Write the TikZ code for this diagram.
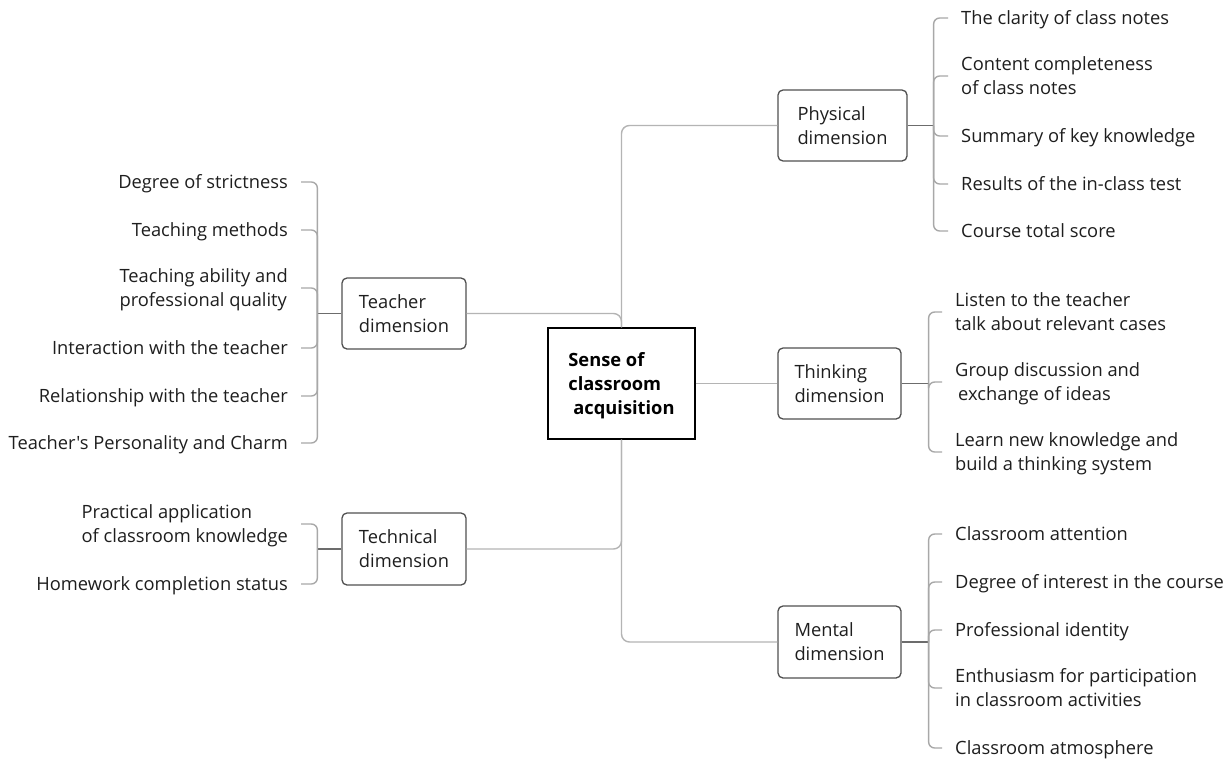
\documentclass[tikz,border=0pt]{standalone}
\usepackage{fontspec}
\setmainfont{Open Sans}[Ligatures=TeXOff]
\usetikzlibrary{calc}
\definecolor{txt}{HTML}{1E1E1E}
\definecolor{trunkc}{HTML}{B4B4B4}
\definecolor{brc}{HTML}{A8A8A8}
\definecolor{boxc}{HTML}{505050}
\newcommand{\itf}{\fontsize{18.3}{24}\selectfont}
\newcommand{\st}{\rule[-5.2pt]{0pt}{24pt}}
\tikzset{
  dimbox/.style={draw=boxc, line width=1.3pt, rounded corners=5pt, fill=white, align=left, text=txt, font=\itf, inner sep=0pt},
  rootbox/.style={draw=black, line width=1.4pt, fill=white, align=left, text=black, font=\itf\bfseries, inner sep=0pt, minimum width=147, minimum height=111},
  itemR/.style={anchor=west, align=left, text=txt, font=\itf, inner xsep=13pt, inner ysep=0pt},
  itemL/.style={anchor=east, align=left, text=txt, font=\itf, inner xsep=13pt, inner ysep=0pt},
  trunk/.style={draw=trunkc, line width=1.4pt, rounded corners=8pt},
  br/.style={draw=brc, line width=1.4pt, rounded corners=6pt},
  stem/.style={draw=gray!85!black, line width=1.4pt},
}
\begin{document}
\begin{tikzpicture}[x=1pt,y=-1pt]
\useasboundingbox[fill=white] (0,0) rectangle (1232,758);

% central and dimension boxes
\node[rootbox] (root) at (621.5,383.5) {\st Sense of\\\st classroom\\\st\hspace{5pt}acquisition};
\node[dimbox, minimum width=129, minimum height=71] (phys) at (842.5,125.5) {\st Physical\\\st dimension};
\node[dimbox, minimum width=123, minimum height=71] (think) at (839.5,383.5) {\st Thinking\\\st dimension};
\node[dimbox, minimum width=123, minimum height=72] (mental) at (839.5,642) {\st Mental\\\st dimension};
\node[dimbox, minimum width=124, minimum height=71] (teacher) at (404,313.5) {\st Teacher\\\st dimension};
\node[dimbox, minimum width=124, minimum height=72] (tech) at (404,549) {\st Technical\\\st dimension};

% trunk
\draw[trunk] (root.north) |- (phys.west);
\draw[trunk] (root.south) |- (mental.west);
\draw[trunk] (teacher.east) -| (root.north);
\draw[trunk] (tech.east) -| (root.south);
\draw[trunk] (root.east) -- (think.west);

% Physical items
\node[itemR] (p1) at (948,18) {\st The clarity of class notes};
\node[itemR] (p2) at (948,76) {\st Content completeness\\\st of class notes};
\node[itemR] (p3) at (948,136) {\st Summary of key knowledge};
\node[itemR] (p4) at (948,184) {\st Results of the in-class test};
\node[itemR] (p5) at (948,231) {\st Course total score};
\coordinate (pb) at ([xshift=26pt]phys.east);
\draw[stem] (phys.east) -- (pb);
\foreach \i in {p1,p2,p3,p4,p5} \draw[br] (\i.west) -| (pb);

% Thinking items
\node[itemR] (h1) at (942,312) {\st Listen to the teacher\\\st talk about relevant cases};
\node[itemR] (h2) at (942,382) {\st Group discussion and\\\st\hspace{3pt}exchange of ideas};
\node[itemR] (h3) at (942,452) {\st Learn new knowledge and\\\st build a thinking system};
\coordinate (hb) at ([xshift=27pt]think.east);
\draw[stem] (think.east) -- (hb);
\foreach \i in {h1,h2,h3} \draw[br] (\i.west) -| (hb);

% Mental items
\node[itemR] (m1) at (942,534) {\st Classroom attention};
\node[itemR] (m2) at (942,582) {\st Degree of interest in the course};
\node[itemR] (m3) at (942,630) {\st Professional identity};
\node[itemR] (m4) at (942,688) {\st Enthusiasm for participation\\\st in classroom activities};
\node[itemR] (m5) at (942,748) {\st Classroom atmosphere};
\coordinate (mb) at ([xshift=27pt]mental.east);
\draw[stem] (mental.east) -- (mb);
\foreach \i in {m1,m2,m3,m4,m5} \draw[br] (\i.west) -| (mb);

% Teacher items
\node[itemL] (t1) at (301,182) {\st Degree of strictness};
\node[itemL] (t2) at (301,230) {\st Teaching methods};
\node[itemL] (t3) at (301,288) {\st Teaching ability and\\\st professional quality};
\node[itemL] (t4) at (301,348) {\st Interaction with the teacher};
\node[itemL] (t5) at (301,396) {\st Relationship with the teacher};
\node[itemL] (t6) at (301,443) {\st Teacher's Personality and Charm};
\coordinate (tb) at ([xshift=-24pt]teacher.west);
\draw[stem] (teacher.west) -- (tb);
\foreach \i in {t1,t2,t3,t4,t5,t6} \draw[br] (\i.east) -| (tb);

% Technical items
\node[itemL] (k1) at (301,524) {\st Practical application\\\st of classroom knowledge};
\node[itemL] (k2) at (301,584) {\st Homework completion status};
\coordinate (kb) at ([xshift=-24pt]tech.west);
\draw[stem] (tech.west) -- (kb);
\foreach \i in {k1,k2} \draw[br] (\i.east) -| (kb);
\end{tikzpicture}
\end{document}
